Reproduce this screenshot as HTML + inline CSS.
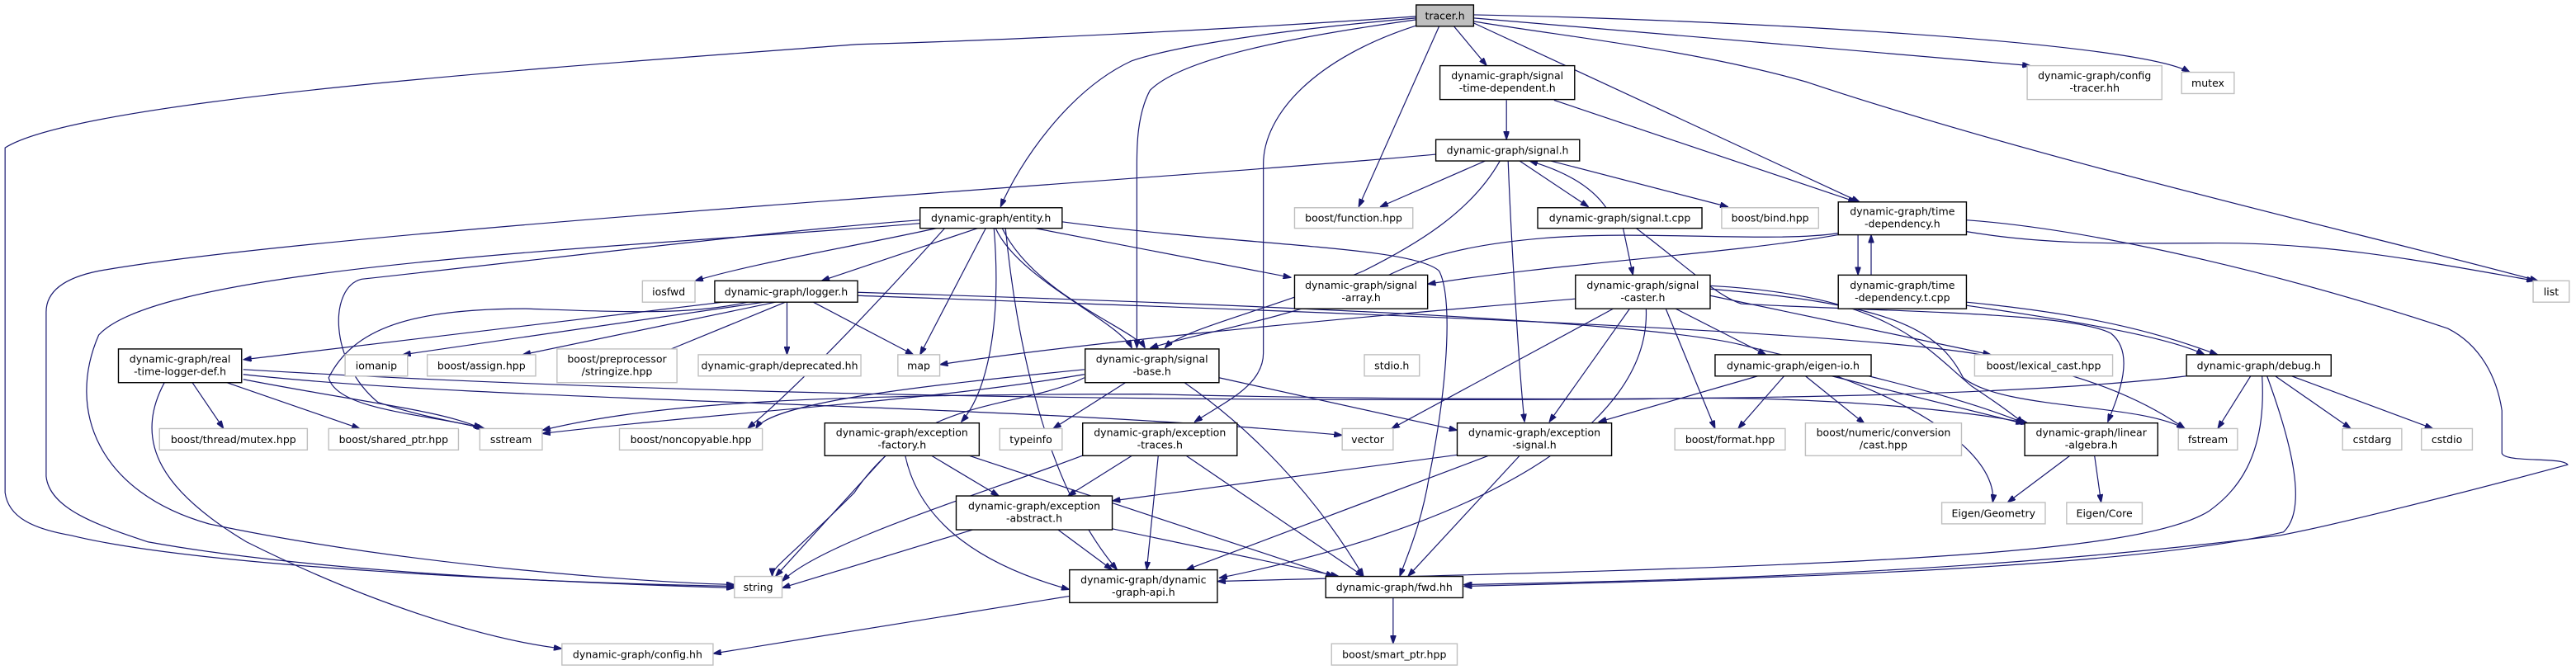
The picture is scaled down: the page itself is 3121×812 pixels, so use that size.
<!DOCTYPE html>
<html><head><meta charset="utf-8"><style>
html,body{margin:0;padding:0;background:#fff;}
svg{display:block;}
text{font-family:"DejaVu Sans","Liberation Sans",sans-serif;font-size:6.3px;fill:#000;text-anchor:middle;}
.e{fill:none;stroke:#191970;stroke-width:0.6;marker-end:url(#a);}
.n{fill:#fff;stroke:#000;stroke-width:0.7;}
.g{fill:#fff;stroke:#bfbfbf;stroke-width:0.7;}
</style></head><body>
<svg width="3121" height="812" viewBox="0 0 1568 408" xmlns="http://www.w3.org/2000/svg">
<defs><marker id="a" viewBox="0 0 10 7" refX="10" refY="3.5" markerWidth="5" markerHeight="3.5" markerUnits="userSpaceOnUse" orient="auto"><path d="M0,0 L10,3.5 L0,7 z" fill="#191970" stroke="#191970"/></marker></defs>
<g>
<path class="e" d="M862,10 C750,18 600,25 522,27 C350,40 50,60 3,90 L3,300 C5,315 20,322 43,326 C120,345 330,355 447,357"/>
<path class="e" d="M862,11 C760,20 710,30 689,37 C650,55 620,100 609,126"/>
<path class="e" d="M862,12 C790,22 720,35 700,55 C692,70 692,90 692,100 L692,212"/>
<path class="e" d="M864,15 C800,35 769,70 769,100 L769,215 C769,235 745,245 727,257"/>
<path class="e" d="M876,16 L827,126"/>
<path class="e" d="M885,16 L905,40"/>
<path class="e" d="M897,14 L1132,123"/>
<path class="e" d="M897,11 C1000,20 1150,32 1236,40"/>
<path class="e" d="M897,9 C1050,12 1300,25 1333,44"/>
<path class="e" d="M897,13 C950,22 1030,30 1100,50 C1250,100 1450,145 1545,171"/>
<path class="e" d="M917,61 L917,85"/>
<path class="e" d="M946,61 L1130,123"/>
<path class="e" d="M874,94 C700,110 200,140 60,165 C35,170 28,180 28,190 L28,290 C30,310 60,320 90,330 C200,350 380,356 447,358"/>
<path class="e" d="M904,98 L840,126"/>
<path class="e" d="M913,98 C895,130 860,150 830,165 C770,190 720,200 709,212"/>
<path class="e" d="M925,98 L967,126"/>
<path class="e" d="M978,127 C970,115 955,105 931,98"/>
<path class="e" d="M944,98 L1052,126"/>
<path class="e" d="M918,98 C920,150 925,230 928,257"/>
<path class="e" d="M988,139 L994,167.5"/>
<path class="e" d="M996,139 C1030,165 1045,180 1060,185 C1150,190 1260,190 1285,203 C1300,215 1290,240 1283,257"/>
<path class="e" d="M1119,142 C1080,148 1000,140 940,145 C880,150 860,160 830,175 C780,195 720,205 700,212"/>
<path class="e" d="M1119,143 C1050,155 950,160 869,173"/>
<path class="e" d="M1131,143 L1131,167.5"/>
<path class="e" d="M1139,167.5 L1139,143"/>
<path class="e" d="M1197,134 C1280,140 1400,170 1490,200 C1510,210 1520,230 1523,250 L1523,276 C1525,282 1560,278 1563,283 C1500,300 1420,320 1388,326 C1200,350 1000,354 891,356"/>
<path class="e" d="M1197,141 C1250,150 1300,148 1350,148 C1420,148 1480,160 1543,171"/>
<path class="e" d="M1197,186 C1260,195 1320,205 1342,216"/>
<path class="e" d="M1197,184 C1280,192 1320,205 1350,216"/>
<path class="e" d="M959,182 C800,195 650,210 572,222"/>
<path class="e" d="M982,188 L847,261"/>
<path class="e" d="M992,188 L943,257"/>
<path class="e" d="M1002,188 C1005,260 900,320 742,352"/>
<path class="e" d="M1014,188 L1044,261"/>
<path class="e" d="M1020,188 L1075,216"/>
<path class="e" d="M1041,180 L1212,216"/>
<path class="e" d="M1041,176 C1150,185 1180,200 1195,230 C1220,250 1300,245 1330,261"/>
<path class="e" d="M1041,174 C1150,180 1170,210 1200,235 C1215,245 1225,252 1232,258"/>
<path class="e" d="M570,139 C520,150 460,160 423,171"/>
<path class="e" d="M595,139 L500,171"/>
<path class="e" d="M600,139 L560,216"/>
<path class="e" d="M606,139 C620,170 680,195 689,212"/>
<path class="e" d="M610,139 C630,180 690,200 697,212"/>
<path class="e" d="M630,139 L786,169"/>
<path class="e" d="M646,135 C760,150 860,150 876,165 C884,180 882,230 870,290 C865,320 856,340 852,351"/>
<path class="e" d="M605,139 C610,200 600,240 585,257"/>
<path class="e" d="M612,139 C620,220 640,300 680,347"/>
<path class="e" d="M560,134 C480,140 400,150 220,170 C200,175 200,220 230,245 C260,255 285,258 294,261"/>
<path class="e" d="M560,136 C400,150 100,160 60,204 C40,250 60,300 127,319 C250,345 400,355 447,356"/>
<path class="e" d="M575,139 C520,200 480,240 455,261"/>
<path class="e" d="M440,184 L148,219"/>
<path class="e" d="M465,184 L245,216"/>
<path class="e" d="M472,184 L318,216"/>
<path class="e" d="M478,184 L400,216"/>
<path class="e" d="M479,184 L479,216"/>
<path class="e" d="M495,184 L556,216"/>
<path class="e" d="M455,184 C420,192 380,190 320,188 C250,188 215,200 200,230 C205,250 260,252 295,261"/>
<path class="e" d="M522,178 C750,185 1000,195 1060,210 C1120,225 1190,240 1233,258"/>
<path class="e" d="M522,180 C800,190 1100,200 1200,215 C1260,225 1300,240 1330,261"/>
<path class="e" d="M117,233 L136,261"/>
<path class="e" d="M138,233 L219,261"/>
<path class="e" d="M148,231 C220,245 270,250 293,261"/>
<path class="e" d="M100,233 C80,270 100,300 150,330 C230,370 300,390 342,395"/>
<path class="e" d="M148,228 C300,245 600,245 817,265"/>
<path class="e" d="M148,225 C400,240 700,245 1000,243 C1100,240 1200,250 1235,258"/>
<path class="e" d="M685,233 L641,261"/>
<path class="e" d="M660,228 C560,245 450,250 330,264"/>
<path class="e" d="M660,225 C560,235 470,245 460,261"/>
<path class="e" d="M660,230 C620,250 560,240 520,300 C480,340 470,345 470,351"/>
<path class="e" d="M721,233 C760,260 800,300 830,351"/>
<path class="e" d="M742,230 L887,262"/>
<path class="e" d="M539,277.5 L472,351"/>
<path class="e" d="M551,277.5 C560,320 600,345 651,359"/>
<path class="e" d="M567,277.5 L608,302"/>
<path class="e" d="M590,277.5 L812,351"/>
<path class="e" d="M660,277 C600,300 500,330 476,354"/>
<path class="e" d="M689,277.5 L650,302"/>
<path class="e" d="M705,277.5 L698,347"/>
<path class="e" d="M722,277.5 L830,351"/>
<path class="e" d="M887,277 L677,305"/>
<path class="e" d="M906,277.5 L722,347"/>
<path class="e" d="M925,277.5 L857,351"/>
<path class="e" d="M592,322.6 L476,358"/>
<path class="e" d="M644,322.6 L677,347"/>
<path class="e" d="M677,322 L815,351"/>
<path class="e" d="M651,363 L434,398"/>
<path class="e" d="M848,364 L848,392"/>
<path class="e" d="M1070,229 L973,257"/>
<path class="e" d="M1086,229 L1058,261"/>
<path class="e" d="M1099,229 L1135,258"/>
<path class="e" d="M1115,229 L1232,258"/>
<path class="e" d="M1118,229 C1200,260 1215,290 1213,306"/>
<path class="e" d="M1260,277.5 L1222,306"/>
<path class="e" d="M1275,277.5 L1279,306"/>
<path class="e" d="M1331,229 C1200,245 900,245 700,240 C500,240 400,245 330,262"/>
<path class="e" d="M1370,229 L1350,261"/>
<path class="e" d="M1377,229 C1380,280 1360,300 1345,311 C1300,340 1100,345 741,354"/>
<path class="e" d="M1380,229 C1395,270 1405,310 1390,324 C1300,345 1100,352 891,357"/>
<path class="e" d="M1385,229 L1431,261"/>
<path class="e" d="M1395,229 L1481,261"/>
</g>
<g>
<rect x="862" y="3" width="35" height="13" fill="#bfbfbf" stroke="#000" stroke-width="0.7"/><text x="879.5" y="11.8">tracer.h</text>
<rect class="n" x="876.5" y="40" width="82" height="20.6"/><text x="917.5" y="48.3">dynamic-graph/signal</text><text x="917.5" y="55.8">-time-dependent.h</text>
<rect class="n" x="874" y="85" width="87.5" height="13"/><text x="917.7" y="93.8">dynamic-graph/signal.h</text>
<rect class="n" x="560" y="126.5" width="86.5" height="12.5"/><text x="603.2" y="135">dynamic-graph/entity.h</text>
<rect class="g" x="788" y="126.5" width="72" height="12.5"/><text x="824" y="135">boost/function.hpp</text>
<rect class="n" x="936" y="126.5" width="100" height="12.5"/><text x="986" y="135">dynamic-graph/signal.t.cpp</text>
<rect class="g" x="1048" y="126.5" width="59" height="12.5"/><text x="1077.5" y="135">boost/bind.hpp</text>
<rect class="n" x="1119" y="123" width="78" height="20"/><text x="1158" y="131">dynamic-graph/time</text><text x="1158" y="138.5">-dependency.h</text>
<rect class="g" x="1234" y="40" width="82" height="20.6"/><text x="1275" y="48.3">dynamic-graph/config</text><text x="1275" y="55.8">-tracer.hh</text>
<rect class="g" x="1328" y="44" width="32" height="13"/><text x="1344" y="52.8">mutex</text>
<rect class="n" x="788" y="167.5" width="81" height="20.5"/><text x="828.5" y="175.8">dynamic-graph/signal</text><text x="828.5" y="183.3">-array.h</text>
<rect class="n" x="959" y="167.5" width="82" height="20.5"/><text x="1000" y="175.8">dynamic-graph/signal</text><text x="1000" y="183.3">-caster.h</text>
<rect class="n" x="1119" y="167.5" width="78" height="20.5"/><text x="1158" y="175.8">dynamic-graph/time</text><text x="1158" y="183.3">-dependency.t.cpp</text>
<rect class="g" x="1542" y="171" width="22" height="13"/><text x="1553" y="179.8">list</text>
<rect class="g" x="391" y="171" width="32" height="13"/><text x="407" y="179.8">iosfwd</text>
<rect class="n" x="435" y="171" width="87" height="13"/><text x="478.5" y="179.8">dynamic-graph/logger.h</text>
<rect class="n" x="72" y="212.5" width="75" height="20.5"/><text x="109.5" y="220.8">dynamic-graph/real</text><text x="109.5" y="228.3">-time-logger-def.h</text>
<rect class="g" x="210" y="216" width="38" height="13"/><text x="229" y="224.8">iomanip</text>
<rect class="g" x="260" y="216" width="66" height="13"/><text x="293" y="224.8">boost/assign.hpp</text>
<rect class="g" x="339" y="212.5" width="73" height="20.5"/><text x="375.5" y="220.8">boost/preprocessor</text><text x="375.5" y="228.3">/stringize.hpp</text>
<rect class="g" x="425" y="216" width="99" height="13"/><text x="474.5" y="224.8">dynamic-graph/deprecated.hh</text>
<rect class="g" x="546.5" y="216" width="25.5" height="13"/><text x="559.2" y="224.8">map</text>
<rect class="n" x="660.5" y="212.5" width="81.5" height="20.5"/><text x="701.2" y="220.8">dynamic-graph/signal</text><text x="701.2" y="228.3">-base.h</text>
<rect class="g" x="830.5" y="216" width="33.5" height="13"/><text x="847.2" y="224.8">stdio.h</text>
<rect class="n" x="1044" y="216" width="95" height="13"/><text x="1091.5" y="224.8">dynamic-graph/eigen-io.h</text>
<rect class="g" x="1202" y="216" width="84" height="13"/><text x="1244" y="224.8">boost/lexical_cast.hpp</text>
<rect class="n" x="1331" y="216" width="88" height="13"/><text x="1375" y="224.8">dynamic-graph/debug.h</text>
<rect class="g" x="97" y="261" width="90" height="13"/><text x="142" y="269.8">boost/thread/mutex.hpp</text>
<rect class="g" x="200" y="261" width="79" height="13"/><text x="239.5" y="269.8">boost/shared_ptr.hpp</text>
<rect class="g" x="292" y="261" width="38" height="13"/><text x="311" y="269.8">sstream</text>
<rect class="g" x="377" y="261" width="87" height="13"/><text x="420.5" y="269.8">boost/noncopyable.hpp</text>
<rect class="n" x="502" y="257.6" width="94" height="19.9"/><text x="549" y="265.6">dynamic-graph/exception</text><text x="549" y="273.1">-factory.h</text>
<rect class="g" x="608.5" y="261" width="38" height="13"/><text x="627.5" y="269.8">typeinfo</text>
<rect class="n" x="659" y="257.6" width="94" height="19.9"/><text x="706" y="265.6">dynamic-graph/exception</text><text x="706" y="273.1">-traces.h</text>
<rect class="g" x="817" y="261" width="31" height="13"/><text x="832.5" y="269.8">vector</text>
<rect class="n" x="887" y="257.6" width="94" height="19.9"/><text x="934" y="265.6">dynamic-graph/exception</text><text x="934" y="273.1">-signal.h</text>
<rect class="g" x="1019.5" y="261" width="67.2" height="13"/><text x="1053.1" y="269.8">boost/format.hpp</text>
<rect class="g" x="1099" y="257.6" width="95" height="19.9"/><text x="1146.5" y="265.6">boost/numeric/conversion</text><text x="1146.5" y="273.1">/cast.hpp</text>
<rect class="n" x="1232.5" y="257.6" width="81" height="19.9"/><text x="1273" y="265.6">dynamic-graph/linear</text><text x="1273" y="273.1">-algebra.h</text>
<rect class="g" x="1326" y="261" width="36" height="13"/><text x="1344" y="269.8">fstream</text>
<rect class="g" x="1426" y="261" width="36" height="13"/><text x="1444" y="269.8">cstdarg</text>
<rect class="g" x="1474" y="261" width="31" height="13"/><text x="1489.5" y="269.8">cstdio</text>
<rect class="n" x="582" y="302" width="95" height="20.6"/><text x="629.5" y="310.3">dynamic-graph/exception</text><text x="629.5" y="317.8">-abstract.h</text>
<rect class="g" x="1182" y="306" width="63" height="13"/><text x="1213.5" y="314.8">Eigen/Geometry</text>
<rect class="g" x="1258" y="306" width="46" height="13"/><text x="1281" y="314.8">Eigen/Core</text>
<rect class="g" x="447" y="351" width="29" height="13"/><text x="461.5" y="359.8">string</text>
<rect class="n" x="651" y="347" width="90" height="20"/><text x="696" y="355.3">dynamic-graph/dynamic</text><text x="696" y="362.8">-graph-api.h</text>
<rect class="n" x="807" y="351" width="83.5" height="13"/><text x="848.7" y="359.8">dynamic-graph/fwd.hh</text>
<rect class="g" x="342" y="392" width="92" height="13"/><text x="388" y="400.8">dynamic-graph/config.hh</text>
<rect class="g" x="810.5" y="392" width="76.5" height="13"/><text x="848.7" y="400.8">boost/smart_ptr.hpp</text>
</g>
</svg>
</body></html>
